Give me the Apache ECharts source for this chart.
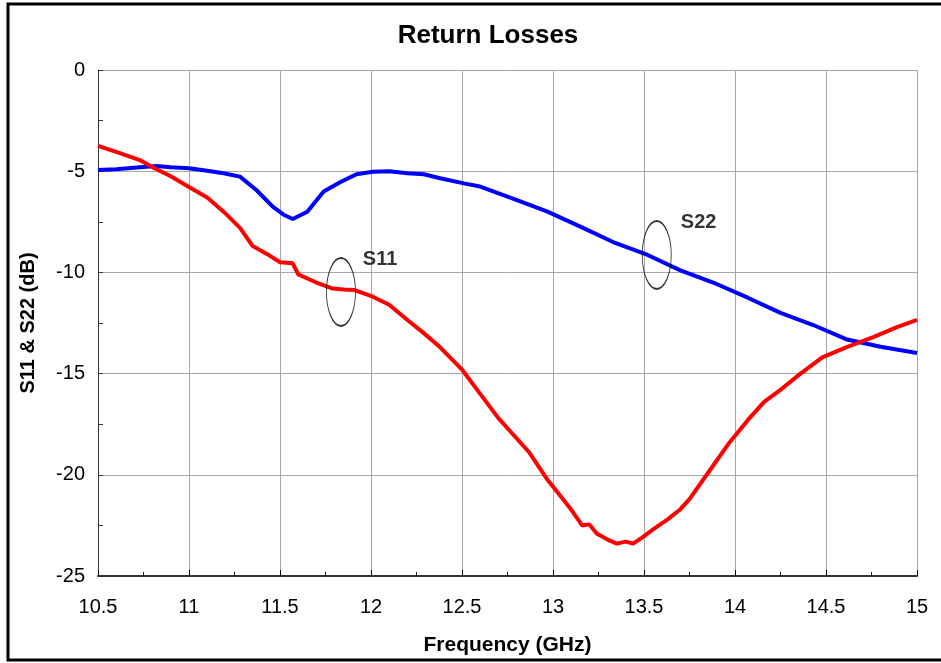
<!DOCTYPE html>
<html>
<head>
<meta charset="utf-8">
<script src="https://cdn.jsdelivr.net/npm/echarts@6/dist/echarts.min.js"></script>
<style>
  html, body { margin: 0; padding: 0; background: #fff; }
  #chart { width: 941px; height: 663px; }
</style>
</head>
<body>
<div id="chart"></div>
<script>
var dom = document.getElementById('chart');
var myChart = echarts.init(dom, null, { renderer: 'canvas' });

// S11 trace (GHz, dB)
var s11Freq = [10.50, 10.60, 10.73, 10.81, 10.90, 11.00, 11.10, 11.19, 11.28, 11.35,
  11.43, 11.50, 11.57, 11.60, 11.70, 11.79, 11.85, 11.91, 12.01, 12.10,
  12.20, 12.29, 12.38, 12.50, 12.60, 12.70, 12.76, 12.87, 12.97, 13.09,
  13.16, 13.20, 13.24, 13.30, 13.35, 13.40, 13.44, 13.49, 13.55, 13.63,
  13.70, 13.75, 13.86, 13.97, 14.07, 14.16, 14.25, 14.36, 14.48, 14.61,
  14.76, 14.89, 15.00];
var s11Values = [-3.75, -4.05, -4.45, -4.85, -5.25, -5.78, -6.3, -7.0, -7.8, -8.7,
  -9.1, -9.5, -9.55, -10.1, -10.5, -10.8, -10.85, -10.87, -11.2, -11.6,
  -12.35, -13.0, -13.7, -14.8, -16.0, -17.2, -17.8, -18.9, -20.25, -21.6,
  -22.5, -22.45, -22.9, -23.2, -23.4, -23.3, -23.4, -23.1, -22.7, -22.2,
  -21.7, -21.2, -19.8, -18.4, -17.3, -16.4, -15.8, -15.0, -14.2, -13.7,
  -13.2, -12.7, -12.35];

// S22 trace
var s22Freq = [10.50, 10.60, 10.73, 10.82, 10.90, 11.00, 11.10, 11.19, 11.28, 11.37,
  11.46, 11.52, 11.57, 11.65, 11.74, 11.83, 11.92, 12.01, 12.10, 12.20,
  12.29, 12.38, 12.51, 12.60, 12.78, 12.97, 13.15, 13.33, 13.52, 13.70,
  13.88, 14.07, 14.25, 14.43, 14.61, 14.80, 15.00];
var s22Values = [-4.94, -4.9, -4.8, -4.74, -4.8, -4.85, -4.98, -5.1, -5.27, -5.93,
  -6.75, -7.15, -7.36, -7.0, -6.0, -5.55, -5.15, -5.03, -5.0, -5.1,
  -5.15, -5.35, -5.6, -5.76, -6.35, -7.0, -7.74, -8.5, -9.14, -9.9,
  -10.5, -11.25, -12.0, -12.6, -13.3, -13.67, -13.98];

// callout ellipses and their labels
var ellipsePoints = [[11.835, -10.97], [13.57, -9.14]];
var calloutNames = ['S11', 'S22'];
var calloutPoints = [[12.05, -9.34], [13.80, -7.51]];

var font = 'Liberation Sans, Arial, Helvetica, sans-serif';

function pairs(xs, ys) {
  return xs.map(function (x, i) { return [x, ys[i]]; });
}

var option = {
  backgroundColor: '#fff',
  animation: false,
  title: {
    text: 'Return Losses',
    left: 483,
    top: 18,
    textAlign: 'center',
    textStyle: { fontFamily: font, fontSize: 26, fontWeight: 'bold', color: '#000' }
  },
  graphic: [
    {
      type: 'rect',
      shape: { x: 8, y: 4, width: 945, height: 656 },
      style: { fill: 'none', stroke: '#000', lineWidth: 3 },
      z: 100
    }
  ],
  grid: { left: 98, right: 24, top: 70, bottom: 87, show: false },
  xAxis: {
    type: 'value',
    min: 10.5,
    max: 15,
    interval: 0.5,
    name: 'Frequency (GHz)',
    nameLocation: 'middle',
    nameGap: 59,
    nameTextStyle: { fontFamily: font, fontSize: 21, fontWeight: 'bold', color: '#000' },
    axisLine: { onZero: false, lineStyle: { color: '#333', width: 2 } },
    axisTick: { inside: true, length: 6, lineStyle: { color: '#000' } },
    minorTick: { show: true, splitNumber: 2, length: 4, lineStyle: { color: '#000' } },
    axisLabel: { fontFamily: font, fontSize: 20, color: '#000', margin: 21 },
    splitLine: { show: true, lineStyle: { color: '#a8a8a8', width: 1 } }
  },
  yAxis: {
    type: 'value',
    min: -25,
    max: 0,
    interval: 5,
    name: 'S11 & S22 (dB)',
    nameLocation: 'middle',
    nameGap: 60,
    nameTextStyle: { fontFamily: font, fontSize: 20, fontWeight: 'bold', color: '#000' },
    axisLine: { show: true, lineStyle: { color: '#333', width: 1 } },
    axisTick: { inside: true, length: 5, lineStyle: { color: '#333' } },
    minorTick: { show: true, splitNumber: 2, length: 5, lineStyle: { color: '#333' } },
    axisLabel: { fontFamily: font, fontSize: 20, color: '#000', margin: 13 },
    splitLine: { show: true, lineStyle: { color: '#a8a8a8', width: 1 } }
  },
  series: [
    {
      name: 'S22',
      type: 'line',
      data: pairs(s22Freq, s22Values),
      showSymbol: false,
      lineStyle: { color: '#0000ff', width: 4 },
      z: 3
    },
    {
      name: 'S11',
      type: 'line',
      data: pairs(s11Freq, s11Values),
      showSymbol: false,
      lineStyle: { color: '#ff0000', width: 4 },
      z: 4
    },
    {
      name: 'ellipses',
      type: 'scatter',
      data: ellipsePoints,
      symbol: 'circle',
      symbolSize: [29, 68],
      itemStyle: { color: 'transparent', borderColor: '#000', borderWidth: 1.3 },
      z: 5
    },
    {
      name: 'labels',
      type: 'scatter',
      data: calloutPoints,
      symbolSize: 0,
      label: {
        show: true,
        position: 'inside',
        formatter: function (p) { return calloutNames[p.dataIndex]; },
        fontFamily: font,
        fontSize: 20,
        fontWeight: 'bold',
        color: '#000'
      },
      z: 6
    }
  ]
};

myChart.setOption(option);
window.addEventListener('resize', myChart.resize);
</script>
</body>
</html>
